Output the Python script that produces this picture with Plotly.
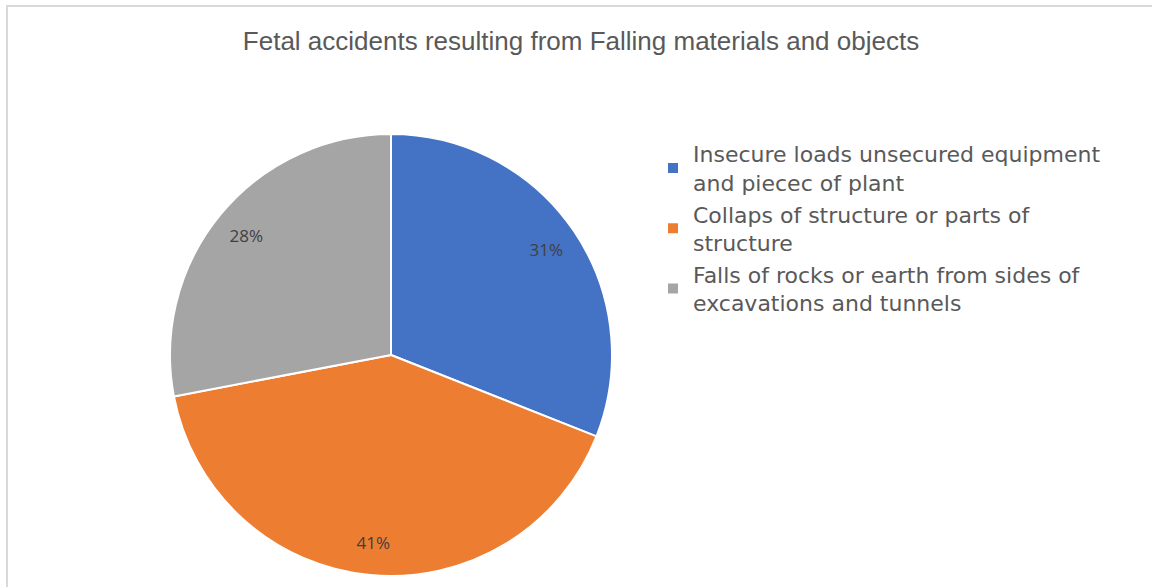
import plotly.graph_objects as go

labels = [
    "Insecure loads unsecured equipment<br>and piecec of plant",
    "Collaps of structure or parts of<br>structure",
    "Falls of rocks or earth from sides of<br>excavations and tunnels",
]
values = [31, 41, 28]
colors = ["#4472C4", "#ED7D31", "#A5A5A5"]
title_text = "Fetal accidents resulting from Falling materials and objects"

W, H = 1152, 587
cx, cy, r = 391, 355, 221
domain = dict(x=[(cx - r) / W, (cx + r) / W], y=[(H - cy - r) / H, (H - cy + r) / H])

fig = go.Figure()
# main pie
fig.add_trace(go.Pie(
    labels=labels,
    values=values,
    sort=False,
    direction="clockwise",
    rotation=0,
    marker=dict(colors=colors, line=dict(color="white", width=2)),
    textinfo="none",
    domain=domain,
    hoverinfo="label+percent",
))
# transparent ring carrying the percentage labels near the rim
fig.add_trace(go.Pie(
    labels=labels,
    values=values,
    sort=False,
    direction="clockwise",
    rotation=0,
    hole=0.7,
    marker=dict(colors=["rgba(0,0,0,0)"] * 3, line=dict(width=0)),
    texttemplate="%{percent:.0%}",
    textposition="inside",
    insidetextorientation="horizontal",
    textfont=dict(family="Open Sans", size=17, color="#404040"),
    domain=domain,
    showlegend=False,
    hoverinfo="skip",
))

fig.update_layout(
    width=W, height=H,
    margin=dict(l=0, r=0, t=0, b=0),
    paper_bgcolor="white",
    plot_bgcolor="white",
    title=dict(text=title_text, x=581 / W, xanchor="center", y=1 - 41 / H, yanchor="middle",
               font=dict(family="Liberation Sans", size=26, color="#595959")),
    legend=dict(x=653 / W, xanchor="left", y=1 - 133 / H, yanchor="top",
                font=dict(family="DejaVu Sans", size=22, color="#595959"),
                itemwidth=30),
    showlegend=True,
    shapes=[dict(type="rect", xref="paper", yref="paper", x0=7 / W, x1=1.02, y0=-0.02, y1=1 - 6 / H,
                 line=dict(color="#D9D9D9", width=2), fillcolor="rgba(0,0,0,0)")],
)

fig.write_html("out.html", config={"displayModeBar": False},
               post_script="document.body.style.margin='0px';")
